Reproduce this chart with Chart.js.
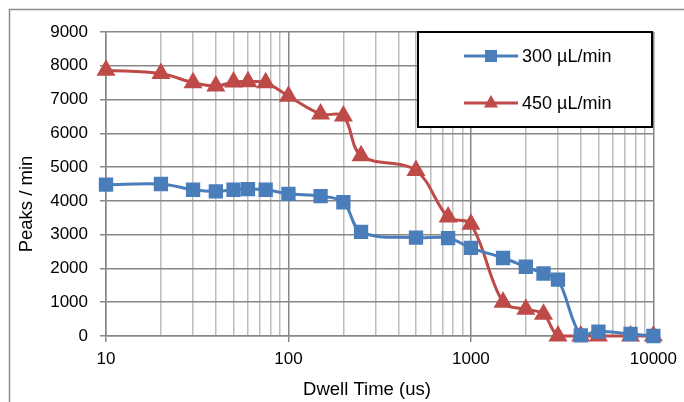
<!DOCTYPE html>
<html>
<head>
<meta charset="utf-8">
<script src="https://cdn.jsdelivr.net/npm/chart.js@4.4.0/dist/chart.umd.min.js"></script>
<style>
  html, body { margin: 0; padding: 0; background: #fff; }
  #wrap { width: 684px; height: 402px; position: relative; }
</style>
</head>
<body>
<div id="wrap"><canvas id="chart" width="684" height="402"></canvas></div>
<script>
// dwell time (us) and peak rates
const dwellTimes = [10, 20, 30, 40, 50, 60, 75, 100, 150, 200, 250, 500, 750, 1000, 1500, 2000, 2500, 3000, 4000, 5000, 7500, 10000];
const peaks300 = [4480, 4500, 4330, 4280, 4330, 4350, 4330, 4210, 4140, 3960, 3080, 2910, 2900, 2610, 2310, 2050, 1850, 1670, 20, 130, 60, 0];
const peaks450 = [7870, 7770, 7500, 7400, 7520, 7530, 7500, 7100, 6570, 6510, 5340, 4900, 3520, 3310, 1000, 790, 645, 0, 0, 0, 0, 0];
const seriesLabels = ['300 \u00b5L/min', '450 \u00b5L/min'];
const seriesColors = ['#4A7EBB', '#BE4B48'];
const yTicks = [0, 1000, 2000, 3000, 4000, 5000, 6000, 7000, 8000, 9000];
const xDecades = [10, 100, 1000, 10000];
const xTitle = 'Dwell Time (us)';
const yTitle = 'Peaks / min';

const FONT = "'Liberation Sans', Arial, sans-serif";
const MAJOR = '#878787';
const MINOR = '#bdbdbd';

function isDecade(v) {
  return xDecades.indexOf(v) !== -1;
}

// every 1..9 x decade value for the log grid
const xGridValues = [];
for (let d = 0; d < xDecades.length; d++) {
  for (let m = 1; m <= 9; m++) {
    const v = xDecades[d] * m;
    if (v <= xDecades[xDecades.length - 1]) xGridValues.push(v);
  }
}

// outer chart frame and the axis titles (centred on the whole frame, like Excel)
const framePlugin = {
  id: 'frame',
  beforeDraw(chart) {
    const ctx = chart.ctx;
    ctx.save();
    ctx.strokeStyle = '#8c8c8c';
    ctx.lineWidth = 1.5;
    ctx.strokeRect(9.5, 9.5, 800, 600);
    ctx.fillStyle = '#000';
    ctx.font = '18.5px ' + FONT;
    ctx.textAlign = 'center';
    ctx.textBaseline = 'middle';
    ctx.fillText(xTitle, 367, 390);
    ctx.translate(27, 204);
    ctx.rotate(-Math.PI / 2);
    ctx.fillText(yTitle, 0, 0);
    ctx.restore();
  }
};

const boxLegend = {
  id: 'boxLegend',
  afterDatasetsDraw(chart) {
    const ctx = chart.ctx;
    const x0 = 418, y0 = 32, w = 234, h = 95;
    ctx.save();
    ctx.fillStyle = '#fff';
    ctx.fillRect(x0, y0, w, h);
    ctx.strokeStyle = '#000';
    ctx.lineWidth = 2;
    ctx.strokeRect(x0, y0, w, h);
    const rows = [56, 103];
    for (let i = 0; i < seriesLabels.length; i++) {
      const y = rows[i];
      ctx.strokeStyle = seriesColors[i];
      ctx.fillStyle = seriesColors[i];
      ctx.lineWidth = 3;
      ctx.beginPath();
      ctx.moveTo(464, y);
      ctx.lineTo(518, y);
      ctx.stroke();
      const cx = 491;
      if (i === 0) {
        ctx.fillRect(cx - 6, y - 6, 12, 12);
      } else {
        ctx.beginPath();
        ctx.moveTo(cx, y - 8);
        ctx.lineTo(cx + 7, y + 4.5);
        ctx.lineTo(cx - 7, y + 4.5);
        ctx.closePath();
        ctx.fill();
      }
      ctx.fillStyle = '#000';
      ctx.font = '18px ' + FONT;
      ctx.textBaseline = 'middle';
      ctx.fillText(seriesLabels[i], 522, y + 1);
    }
    ctx.restore();
  }
};

new Chart(document.getElementById('chart'), {
  type: 'line',
  data: {
    datasets: [
      {
        label: seriesLabels[0],
        data: dwellTimes.map((x, i) => ({ x: x, y: peaks300[i] })),
        borderColor: seriesColors[0],
        backgroundColor: seriesColors[0],
        borderWidth: 3,
        pointStyle: 'rect',
        pointRadius: 8,
        pointHoverRadius: 8,
        tension: 0.35,
        clip: false
      },
      {
        label: seriesLabels[1],
        data: dwellTimes.map((x, i) => ({ x: x, y: peaks450[i] })),
        borderColor: seriesColors[1],
        backgroundColor: seriesColors[1],
        borderWidth: 3,
        pointStyle: 'triangle',
        pointRadius: 8,
        pointHoverRadius: 8,
        tension: 0.35,
        clip: false
      }
    ]
  },
  options: {
    responsive: false,
    animation: false,
    layout: { padding: { left: 0, right: 30, top: 32, bottom: 0 } },
    plugins: {
      legend: { display: false },
      tooltip: { enabled: false }
    },
    scales: {
      x: {
        type: 'logarithmic',
        min: 10,
        max: 10000,
        afterBuildTicks(scale) {
          scale.ticks = xGridValues.map(v => ({ value: v }));
        },
        afterFit(scale) { scale.height = 66; },
        ticks: {
          autoSkip: false,
          maxRotation: 0,
          padding: 7,
          color: '#000',
          font: { family: FONT, size: 17 },
          callback: function(v) { return isDecade(v) ? String(v) : ''; }
        },
        grid: {
          color: ctx => (ctx.tick && isDecade(ctx.tick.value)) ? MAJOR : MINOR,
          tickColor: ctx => (ctx.tick && isDecade(ctx.tick.value)) ? MAJOR : 'rgba(0,0,0,0)',
          tickLength: 6,
          lineWidth: 1.5
        },
        border: { color: MAJOR, width: 1.5 },
        title: { display: false }
      },
      y: {
        min: 0,
        max: 9000,
        afterBuildTicks(scale) {
          scale.ticks = yTicks.map(v => ({ value: v }));
        },
        afterFit(scale) { scale.width = 106; },
        ticks: {
          padding: 12,
          color: '#000',
          font: { family: FONT, size: 17 },
          callback: function(v) { return String(v); }
        },
        grid: {
          color: MAJOR,
          tickColor: MAJOR,
          tickLength: 6,
          lineWidth: 1.5
        },
        border: { color: MAJOR, width: 1.5 },
        title: { display: false }
      }
    }
  },
  plugins: [framePlugin, boxLegend]
});
</script>
</body>
</html>
